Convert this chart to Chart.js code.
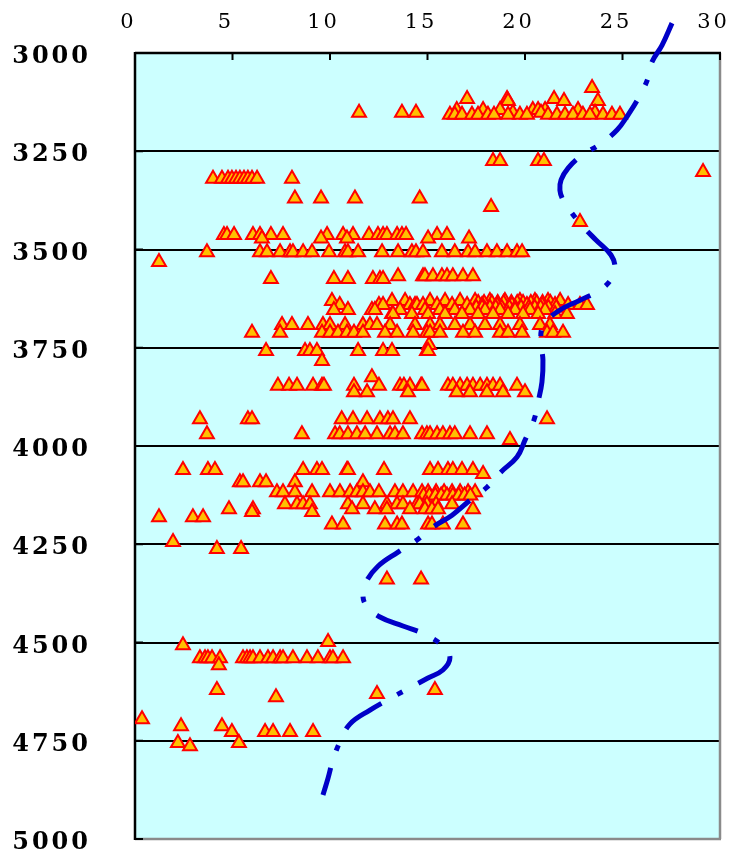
<!DOCTYPE html>
<html>
<head>
<meta charset="utf-8">
<script src="https://cdn.jsdelivr.net/npm/chart.js@4/dist/chart.umd.min.js"></script>
<style>
  html, body { margin: 0; padding: 0; background: #ffffff; }
  #wrap { width: 730px; height: 851px; }
</style>
</head>
<body>
<div id="wrap"><canvas id="c" width="730" height="851"></canvas></div>
<script>
// Axis ticks
const valueTicks = [0, 5, 10, 15, 20, 25, 30];
const depthTicks = [3000, 3250, 3500, 3750, 4000, 4250, 4500, 4750, 5000];

// Measured samples, grouped by depth: rowDepth[i] holds every value in rowValues[i]
const rowDepth = [
  3089, 3117, 3122, 3145, 3152, 3157, 3275, 3303, 3320, 3370, 3392, 3430,
  3463, 3472, 3507, 3532, 3568, 3575, 3631, 3636, 3641, 3648, 3654, 3664,
  3692, 3712, 3743, 3758, 3784, 3825, 3847, 3863, 3932, 3970, 3985, 4061,
  4071, 4092, 4118, 4126, 4148, 4161, 4168, 4181, 4200, 4244, 4262, 4340,
  4499, 4507, 4540, 4558, 4621, 4631, 4639, 4695, 4713, 4728, 4756, 4764
];
const rowValues = [
  [23.44],
  [17.03, 19.08, 21.49],
  [19.13, 22.0, 23.74],
  [16.5, 17.85, 18.72, 20.4, 20.67, 21.03, 22.72],
  [11.49, 13.69, 14.41, 19.38, 20.82, 23.59],
  [16.15, 16.4, 16.77, 17.28, 17.59, 18.1, 18.41, 19.13, 19.74, 20.1, 21.18, 21.64, 22.05, 22.46, 22.97, 23.33, 24.0, 24.46, 24.87],
  [18.36, 18.72, 20.67, 20.97],
  [29.13],
  [4.0, 4.46, 4.77, 4.97, 5.18, 5.38, 5.59, 5.79, 6.0, 6.26, 8.05],
  [8.2, 9.54, 11.28, 14.6],
  [18.26],
  [22.82],
  [4.56, 4.72, 5.08, 6.05, 6.41, 6.97, 7.59, 9.85, 10.67, 11.18, 12.0, 12.46, 12.72, 12.92, 13.44, 13.69, 13.9, 15.49, 16.0],
  [6.51, 9.54, 10.87, 15.03, 17.13],
  [3.69, 6.41, 6.77, 7.44, 7.95, 8.1, 8.62, 9.08, 9.95, 10.77, 10.92, 11.44, 12.67, 13.49, 14.2, 14.41, 14.77, 15.74, 16.4, 17.08, 17.44, 18.05, 18.56, 19.08, 19.59, 19.85],
  [1.23],
  [13.49, 14.77, 14.87, 15.28, 15.74, 16.0, 16.3, 16.82, 17.33],
  [6.97, 10.2, 10.92, 12.2, 12.56, 12.72],
  [10.1, 13.18, 13.85, 15.13, 15.9, 16.67, 17.44, 18.2, 18.97, 19.74, 20.51, 21.18, 21.8],
  [17.6, 17.9, 18.3, 18.6, 18.9, 19.3, 19.6, 19.9, 20.3, 20.6, 20.9, 21.3],
  [10.5, 12.51, 12.72, 14.1, 14.36, 14.46, 14.77, 15.49, 16.26, 17.03, 17.8, 18.56, 19.33, 20.1, 20.87, 21.54, 22.21, 22.82, 23.18],
  [17.5, 17.8, 18.2, 18.5, 18.8, 19.2, 19.5, 19.8, 20.2, 20.5, 20.8, 21.2, 21.6],
  [10.2, 10.92, 12.15, 12.3, 13.59, 14.87, 15.64, 16.4, 17.18, 17.95, 18.72, 19.49, 20.26, 21.03],
  [13.18, 13.23, 14.2, 15.03, 15.9, 16.77, 17.59, 18.36, 19.13, 19.9, 20.67, 21.54, 22.15],
  [7.54, 8.05, 8.87, 9.64, 10.0, 10.77, 11.69, 12.05, 12.41, 13.08, 14.36, 15.13, 15.64, 16.4, 17.18, 17.95, 18.72, 19.74, 20.77, 21.28],
  [6.0, 7.44, 9.59, 10.0, 10.41, 10.87, 11.23, 11.69, 12.82, 13.44, 14.26, 14.97, 15.13, 15.64, 16.82, 17.44, 18.72, 19.13, 19.85, 21.13, 21.44, 21.95],
  [15.08],
  [6.72, 8.72, 8.97, 9.33, 11.44, 12.72, 13.18, 14.97, 15.03],
  [9.59],
  [12.15],
  [7.33, 7.9, 8.31, 9.13, 9.59, 9.69, 11.23, 12.51, 13.59, 13.79, 14.1, 14.67, 14.72, 16.05, 16.3, 16.67, 17.03, 17.33, 17.7, 18.05, 18.36, 18.72, 19.59],
  [11.23, 11.9, 14.0, 16.5, 17.18, 18.05, 18.87, 20.0],
  [3.33, 5.79, 6.0, 10.6, 11.18, 11.9, 12.56, 12.97, 13.23, 14.1, 21.13],
  [3.69, 8.56, 10.26, 10.5, 10.92, 11.38, 11.8, 12.41, 13.08, 13.33, 13.74, 14.72, 14.97, 15.13, 15.49, 15.79, 16.15, 16.4, 17.18, 18.05],
  [19.23],
  [2.46, 3.74, 4.1, 8.62, 9.33, 9.59, 10.87, 10.92, 12.77, 15.13, 15.54, 16.05, 16.3, 16.77, 17.33],
  [17.85],
  [5.38, 5.54, 6.41, 6.72, 8.2, 11.69],
  [7.28, 7.59, 8.2, 9.08, 10.0, 10.51, 11.03, 11.38, 11.69, 12.05, 12.51, 13.33, 13.74, 14.26, 14.72, 15.03, 15.44, 15.85, 16.26, 16.67, 17.08, 17.44],
  [14.8, 15.1, 15.4, 15.7, 16.0, 16.3, 16.6, 16.9, 17.2],
  [7.69, 8.31, 8.62, 8.97, 10.92, 11.69, 12.92, 13.44, 13.74, 14.46, 14.6, 14.97, 15.44, 16.26],
  [4.82, 6.05, 11.13, 12.3, 12.92, 14.1, 14.87, 15.23, 15.54, 17.33],
  [6.0, 9.08],
  [1.23, 2.97, 3.49],
  [10.1, 10.67, 12.82, 13.44, 13.69, 15.03, 15.23, 15.79, 16.82],
  [1.95],
  [4.2, 5.44],
  [12.92, 14.67],
  [9.9],
  [2.46],
  [3.33, 3.59, 3.74, 3.95, 4.36, 5.54, 5.74, 5.9, 6.05, 6.41, 6.82, 7.08, 7.44, 7.59, 8.1, 8.82, 9.38, 10.0, 10.15, 10.67],
  [4.3],
  [4.2, 15.38],
  [12.41],
  [7.23],
  [0.36],
  [2.36, 4.46],
  [4.97, 6.67, 7.08, 7.95, 9.13],
  [2.2, 5.33],
  [2.82]
];

// Trend curve through the samples
const trendDepth = [
  2924, 2980, 3023, 3064, 3112, 3158, 3196, 3232, 3262, 3293, 3323, 3349,
  3374, 3394, 3433, 3476, 3514, 3547, 3573, 3603, 3629, 3657, 3695, 3738,
  3781, 3837, 3888, 3934, 3985, 4028, 4066, 4105, 4138, 4176, 4206, 4239,
  4270, 4306, 4346, 4379, 4405, 4435, 4458, 4478, 4509, 4539, 4570, 4591,
  4619, 4644, 4672, 4707, 4753, 4799, 4845, 4888
];
const trendValue = [
  27.54, 27.03, 26.51, 26.31, 25.85, 25.28, 24.72, 23.85, 22.87, 22.21, 21.85, 21.79,
  21.95, 22.21, 22.82, 23.64, 24.41, 24.62, 24.46, 23.85, 22.82, 21.69, 20.92, 20.82,
  20.92, 20.87, 20.67, 20.46, 20.0, 19.59, 18.77, 18.05, 17.18, 16.26, 15.28, 14.46,
  13.49, 12.46, 11.85, 11.69, 11.85, 12.56, 13.74, 14.82, 15.79, 16.15, 15.79, 15.0,
  13.95, 13.03, 12.05, 11.03, 10.51, 10.15, 9.9, 9.64
];

const samplePoints = [];
rowDepth.forEach((d, i) => rowValues[i].forEach(v => samplePoints.push({ x: v, y: d })));
const trendPoints = trendDepth.map((d, i) => ({ x: trendValue[i], y: d }));

// Plot background, frame, inward tick marks and spaced-out axis lettering
const framePlugin = {
  id: 'frame',
  beforeDraw(chart) {
    const { ctx, chartArea: a } = chart;
    ctx.save();
    ctx.fillStyle = '#CCFFFF';
    ctx.fillRect(a.left, a.top, a.right - a.left, a.bottom - a.top);
    ctx.restore();
    ctx.letterSpacing = '3px';
  },
  beforeDatasetsDraw(chart) {
    const { ctx, chartArea: a, scales } = chart;
    ctx.letterSpacing = '0px';
    ctx.save();
    ctx.lineCap = 'butt';
    // right and bottom edges in grey
    ctx.strokeStyle = '#8a8a8a';
    ctx.lineWidth = 2.5;
    ctx.beginPath();
    ctx.moveTo(a.right, a.top);
    ctx.lineTo(a.right, a.bottom);
    ctx.moveTo(a.left, a.bottom);
    ctx.lineTo(a.right + 1, a.bottom);
    ctx.stroke();
    // top and left edges in black
    ctx.strokeStyle = '#000000';
    ctx.beginPath();
    ctx.moveTo(a.left, a.top);
    ctx.lineTo(a.right + 1, a.top);
    ctx.moveTo(a.left, a.top - 1);
    ctx.lineTo(a.left, a.bottom + 1);
    ctx.stroke();
    // inward tick marks
    ctx.lineWidth = 2;
    ctx.beginPath();
    valueTicks.forEach(v => {
      const x = scales.x.getPixelForValue(v);
      ctx.moveTo(x, a.top);
      ctx.lineTo(x, a.top + 7);
    });
    depthTicks.forEach(d => {
      const y = scales.y.getPixelForValue(d);
      ctx.moveTo(a.left, y);
      ctx.lineTo(a.left + 8, y);
    });
    ctx.stroke();
    ctx.restore();
  }
};

new Chart(document.getElementById('c'), {
  type: 'scatter',
  data: {
    datasets: [
      {
        label: 'trend',
        data: trendPoints,
        showLine: true,
        borderColor: '#0000C8',
        borderWidth: 5,
        borderDash: [44, 18, 6, 18],
        borderCapStyle: 'butt',
        tension: 0.4,
        capBezierPoints: false,
        pointRadius: 0,
        pointHoverRadius: 0,
        fill: false,
        clip: false,
        order: 0
      },
      {
        label: 'samples',
        data: samplePoints,
        showLine: false,
        pointStyle: 'triangle',
        pointRadius: 8,
        pointHoverRadius: 8,
        pointBorderWidth: 2,
        pointBorderColor: '#FF0000',
        pointBackgroundColor: '#FFC000',
        order: 1
      }
    ]
  },
  options: {
    responsive: false,
    animation: false,
    devicePixelRatio: 1,
    events: [],
    layout: { padding: { left: 0, right: 10, top: 0, bottom: 12 } },
    plugins: { legend: { display: false }, tooltip: { enabled: false } },
    scales: {
      x: {
        type: 'linear',
        position: 'top',
        min: 0,
        max: 30,
        afterBuildTicks(scale) { scale.ticks = valueTicks.map(v => ({ value: v })); },
        afterFit(scale) { scale.height = 53; scale.paddingLeft = 0; scale.paddingRight = 0; },
        grid: { display: false, drawTicks: false },
        border: { display: false },
        ticks: {
          color: '#000000',
          font: { family: 'DejaVu Serif', size: 21 },
          padding: 18,
          labelOffset: -6.5,
          maxRotation: 0,
          autoSkip: false,
          callback: v => String(v)
        }
      },
      y: {
        type: 'linear',
        position: 'left',
        reverse: true,
        min: 3000,
        max: 5000,
        afterBuildTicks(scale) { scale.ticks = depthTicks.map(v => ({ value: v })); },
        afterFit(scale) { scale.width = 135; scale.paddingTop = 0; scale.paddingBottom = 0; },
        grid: { color: '#000000', lineWidth: 2, drawTicks: false },
        border: { display: false },
        ticks: {
          color: '#000000',
          font: { family: 'DejaVu Serif', size: 24, weight: 'bold' },
          padding: 44,
          labelOffset: 4,
          autoSkip: false,
          callback: v => String(v)
        }
      }
    }
  },
  plugins: [framePlugin]
});
</script>
</body>
</html>
